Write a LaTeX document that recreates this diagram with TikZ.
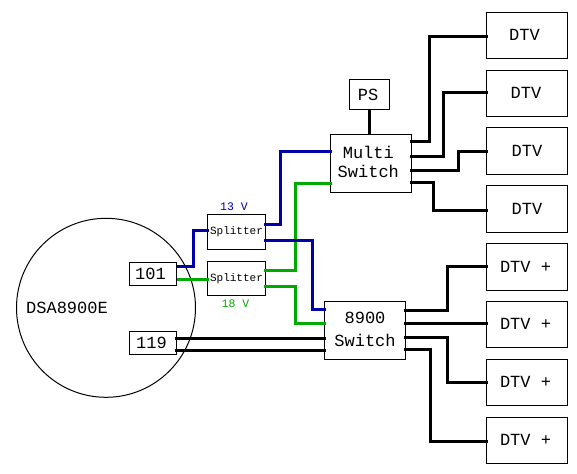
\documentclass[tikz,border=0pt]{standalone}
\usepackage{fontspec}
\setmainfont{Liberation Mono}
\definecolor{wblue}{HTML}{0000AA}
\definecolor{wgreen}{HTML}{00AA00}
\tikzset{
  box/.style={draw=black,line width=1pt,fill=white,inner sep=0pt,outer sep=0pt,align=center,anchor=north west,font=\fontsize{17}{22}\selectfont},
  split/.style={box,font=\fontsize{11}{13}\selectfont},
  wire/.style={line width=3pt,line join=miter,shorten <=-1.2pt,shorten >=-1.2pt},
  lab/.style={font=\fontsize{11.5}{13}\selectfont,inner sep=0pt}
}
% text offset inside a box: right by #1, up by #2
\newcommand{\tw}[3]{\raisebox{#2pt}{\hspace*{\dimexpr 2pt*#1\relax}#3}}
\newcommand{\tl}[3]{\raisebox{#2pt}{\kern #1pt #3\kern -#1pt}}
\begin{document}
\begin{tikzpicture}[x=1pt,y=-1pt]
\useasboundingbox (0,0) rectangle (577,473);
\node[draw=black,line width=1pt,circle,minimum size=179pt,inner sep=0pt,outer sep=0pt] (dish) at (106,307.8) {};
\node[inner sep=0pt,font=\fontsize{17}{20}\selectfont] (dsa) at (67,308) {DSA8900E};
\node[box,minimum width=81pt,minimum height=46pt] (d1) at (486.5,12.5) {\tl{-2.5}{1.5}{DTV}};
\node[box,minimum width=81pt,minimum height=46pt] (d2) at (486.5,70.5) {\tl{-1}{1.8}{DTV}};
\node[box,minimum width=81pt,minimum height=47pt] (d3) at (486.5,127.5) {DTV};
\node[box,minimum width=81pt,minimum height=47pt] (d4) at (486.5,185.5) {\tl{0}{-0.5}{DTV}};
\node[box,minimum width=81pt,minimum height=47pt] (p1) at (486.5,243.5) {\tl{-1.5}{0.7}{DTV +}};
\node[box,minimum width=81pt,minimum height=46pt] (p2) at (486.5,301.5) {\tl{-1.5}{1}{DTV +}};
\node[box,minimum width=81pt,minimum height=46pt] (p3) at (486.5,359.5) {\tl{-1.5}{1}{DTV +}};
\node[box,minimum width=81pt,minimum height=46pt] (p4) at (486.5,417.5) {\tl{-1.5}{1.5}{DTV +}};
\node[box,minimum width=40pt,minimum height=30pt] (ps) at (349.5,79.5) {\tl{-1.5}{0}{PS}};
\node[box,minimum width=81pt,minimum height=58pt] (ms) at (330.5,134.5) {\tl{-2.7}{0}{\begin{tabular}{@{}c@{}}Multi\\[-3.5pt]Switch\end{tabular}}};
\node[box,minimum width=81pt,minimum height=58pt] (sw) at (324.5,301.5) {\begin{tabular}{@{}c@{}}8900\\[1pt]Switch\end{tabular}};
\node[split,minimum width=58pt,minimum height=35pt] (s1) at (207.5,214.5) {Splitter};
\node[split,minimum width=58pt,minimum height=34pt] (s2) at (207.5,261.5) {Splitter};
\node[box,minimum width=47pt,minimum height=23pt] (b101) at (129.5,262.5) {\tl{-2.5}{-1}{101}};
\node[box,minimum width=47pt,minimum height=23pt] (b119) at (129.5,331.5) {\tl{-1.5}{-1.5}{119}};
\node[lab,text=wblue] (l13) at (234,207) {13 V};
\node[lab,text=wgreen] (l18) at (235.5,303.5) {18 V};
% power supply
\draw[wire,shorten <=0pt,shorten >=0pt] (ps.south) -- (ps.south |- ms.north);
% multi switch outputs
\draw[wire] (ms.east |- 0,142) -| (429.5,36.3) -- (d1.west |- 0,36.3);
\draw[wire] (ms.east |- 0,156) -| (443.7,92.3) -- (d2.west |- 0,92.3);
\draw[wire] (ms.east |- 0,170.3) -| (458.3,151.3) -- (d3.west |- 0,151.3);
\draw[wire] (ms.east |- 0,182.3) -| (433.7,210.3) -- (d4.west |- 0,210.3);
% 8900 outputs
\draw[wire] (sw.east |- 0,310.3) -| (447.3,266.3) -- (p1.west |- 0,266.3);
\draw[wire] (sw.east |- 0,323.3) -- (p2.west |- 0,323.3);
\draw[wire] (sw.east |- 0,337.7) -| (447.3,382) -- (p3.west |- 0,382);
\draw[wire] (sw.east |- 0,349.3) -| (430.3,441.3) -- (p4.west |- 0,441.3);
% 119
\draw[wire] (b119.east |- 0,338.3) -- (sw.west |- 0,338.3);
\draw[wire] (b119.east |- 0,350.3) -- (sw.west |- 0,350.3);
% green
\draw[wire,wgreen,shorten <=0pt] (b101.east |- 0,279.3) -- (s2.west |- 0,279.3);
\draw[wire,wgreen] (s2.east |- 0,270.3) -| (295.3,183) -- (ms.west |- 0,183);
\draw[wire,wgreen] (s2.east |- 0,286) -| (295.3,323.3) -- (sw.west |- 0,323.3);
% blue
\draw[wire,wblue,shorten <=0pt] (b101.east |- 0,266.3) -| (193,230.7) -- (s1.west |- 0,230.7);
\draw[wire,wblue] (s1.east |- 0,224.3) -| (280.7,151.3) -- (ms.west |- 0,151.3);
\draw[wire,wblue] (s1.east |- 0,240.3) -| (312.3,309.3) -- (sw.west |- 0,309.3);
\end{tikzpicture}
\end{document}
